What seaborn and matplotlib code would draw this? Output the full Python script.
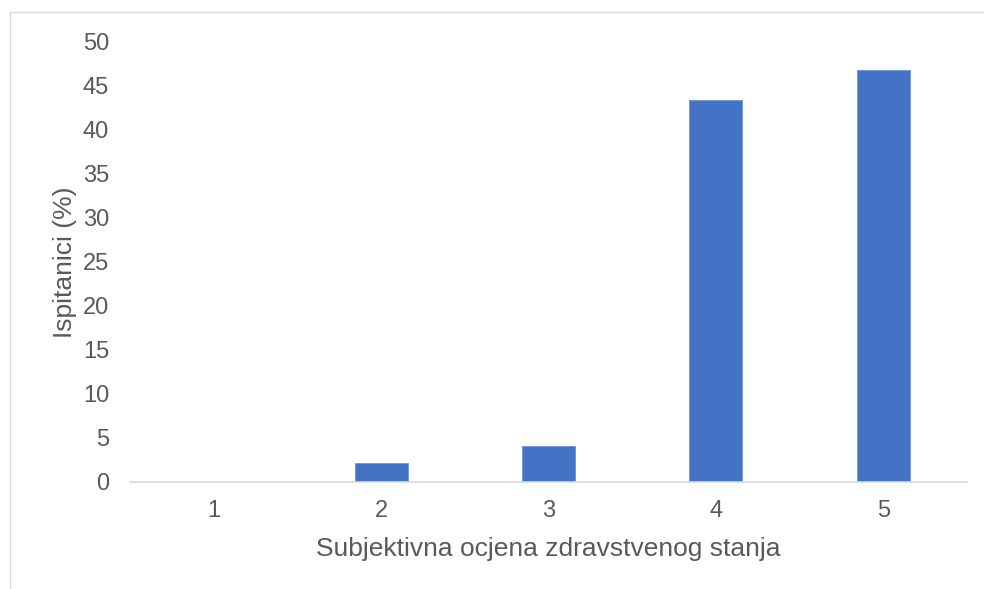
import pandas as pd
import numpy as np
import matplotlib
matplotlib.use('Agg')
import matplotlib.pyplot as plt
import seaborn as sns
from matplotlib.patches import Rectangle

# chart data
ocjene = ['1', '2', '3', '4', '5']
ispitanici = [0.0, 2.1, 4.1, 43.4, 46.8]
y_ticks = [0, 5, 10, 15, 20, 25, 30, 35, 40, 45, 50]

sns.set_style('white')
plt.rcParams['font.family'] = ['Liberation Sans', 'DejaVu Sans']

df = pd.DataFrame({'ocjena': ocjene, 'postotak': ispitanici})

fig = plt.figure(figsize=(9.84, 5.89), dpi=100)
ax = fig.add_axes([0.1321, 0.1817, 0.8506, 0.747])

# outer chart frame (Excel style)
fig.patches.append(Rectangle((10 / 984, -0.1), 1.2, 1.1 - 12 / 589,
                             transform=fig.transFigure, fill=False,
                             edgecolor='#d9d9d9', linewidth=1.0))

sns.barplot(data=df, x='ocjena', y='postotak', color='#4472C4', width=0.316,
            saturation=1, edgecolor='#6f93d3', linewidth=0.6, ax=ax)

ax.set_ylim(0, 50)
ax.set_xlim(-0.5, 4.5)
ax.set_yticks(y_ticks)
ax.set_yticklabels([str(t) for t in y_ticks])

for s in ['top', 'right', 'left']:
    ax.spines[s].set_visible(False)
ax.spines['bottom'].set_color('#d9d9d9')
ax.spines['bottom'].set_linewidth(1.2)

ax.tick_params(axis='both', length=0, labelsize=17, colors='#595959')
ax.tick_params(axis='y', pad=15)
ax.tick_params(axis='x', pad=13)

ax.set_xlabel('Subjektivna ocjena zdravstvenog stanja', fontsize=19, color='#595959', labelpad=11)
ax.set_ylabel('Ispitanici (%)', fontsize=19, color='#595959', labelpad=4)

fig.savefig('out.png', dpi=100)
